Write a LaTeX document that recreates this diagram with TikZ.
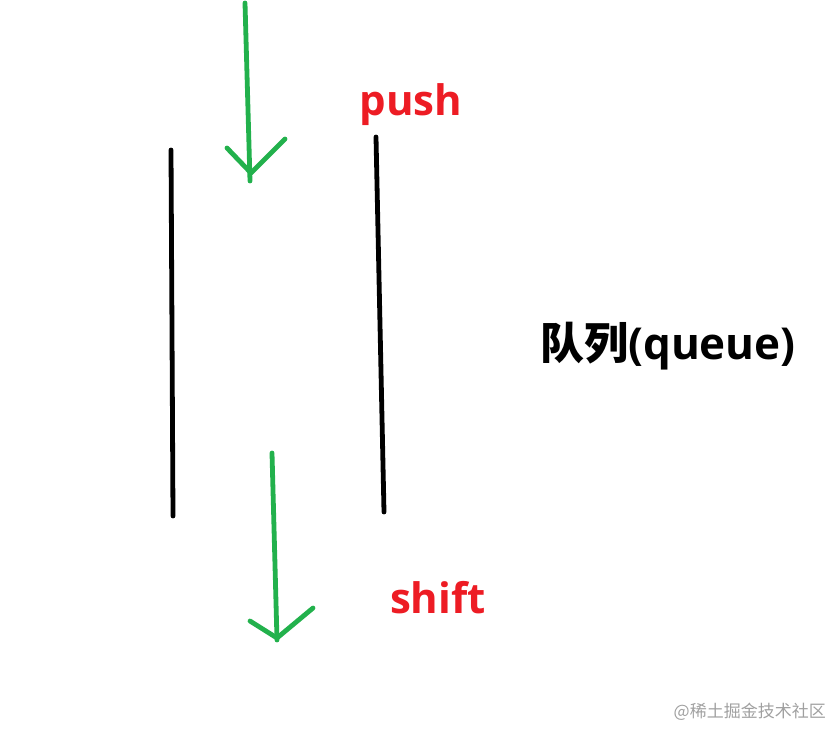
\documentclass[tikz,border=0pt]{standalone}
\usepackage{fontspec}
\setmainfont{Open Sans}
\newfontfamily\cjk{Noto Sans CJK SC}
\definecolor{pgreen}{HTML}{22B14C}
\definecolor{pred}{HTML}{ED1C24}
\definecolor{wmgray}{HTML}{A0A0A0}
\begin{document}
\begin{tikzpicture}[x=1pt,y=-1pt,
  wall/.style={black, line width=4.8pt, line cap=round},
  garrow/.style={pgreen, line width=4.8pt, line cap=round, line join=round},
  lbl/.style={font=\fontsize{42}{50}\selectfont\bfseries, inner sep=0pt, anchor=base}]
\useasboundingbox (0,0) rectangle (836,729);
% queue walls
\coordinate (lwTop) at (171,150);
\coordinate (lwBot) at (173,516);
\coordinate (rwTop) at (376,137);
\coordinate (rwBot) at (384,512);
\draw[wall] (lwTop) -- (lwBot);
\draw[wall] (rwTop) -- (rwBot);
% push arrow
\coordinate (pushStart) at (245,3);
\coordinate (pushEnd) at (250,181);
\coordinate (pushTip) at (251,173);
\coordinate (pushL) at (227,148);
\coordinate (pushR) at (285,139);
\draw[garrow] (pushStart) -- (pushEnd);
\draw[garrow] (pushL) -- (pushTip) -- (pushR);
% shift arrow
\coordinate (shiftStart) at (272,453);
\coordinate (shiftEnd) at (277,640);
\coordinate (shiftTip) at (277,638);
\coordinate (shiftL) at (250,621);
\coordinate (shiftR) at (313,608);
\draw[garrow] (shiftStart) -- (shiftEnd);
\draw[garrow] (shiftL) -- (shiftTip) -- (shiftR);
% labels
\node[lbl, text=pred] (push) at (411,115) {push};
\node[lbl, text=pred] (shift) at (438,613) {shift};
\node[lbl, text=black, font=\fontsize{44}{50}\selectfont\bfseries] (queue) at (668,359) {{\cjk\bfseries 队列}(queue)};
\node[inner sep=0pt, anchor=east, text=wmgray, font=\cjk\fontsize{17}{19}\selectfont] (wm) at (826,712) {@稀土掘金技术社区};
\end{tikzpicture}
\end{document}
